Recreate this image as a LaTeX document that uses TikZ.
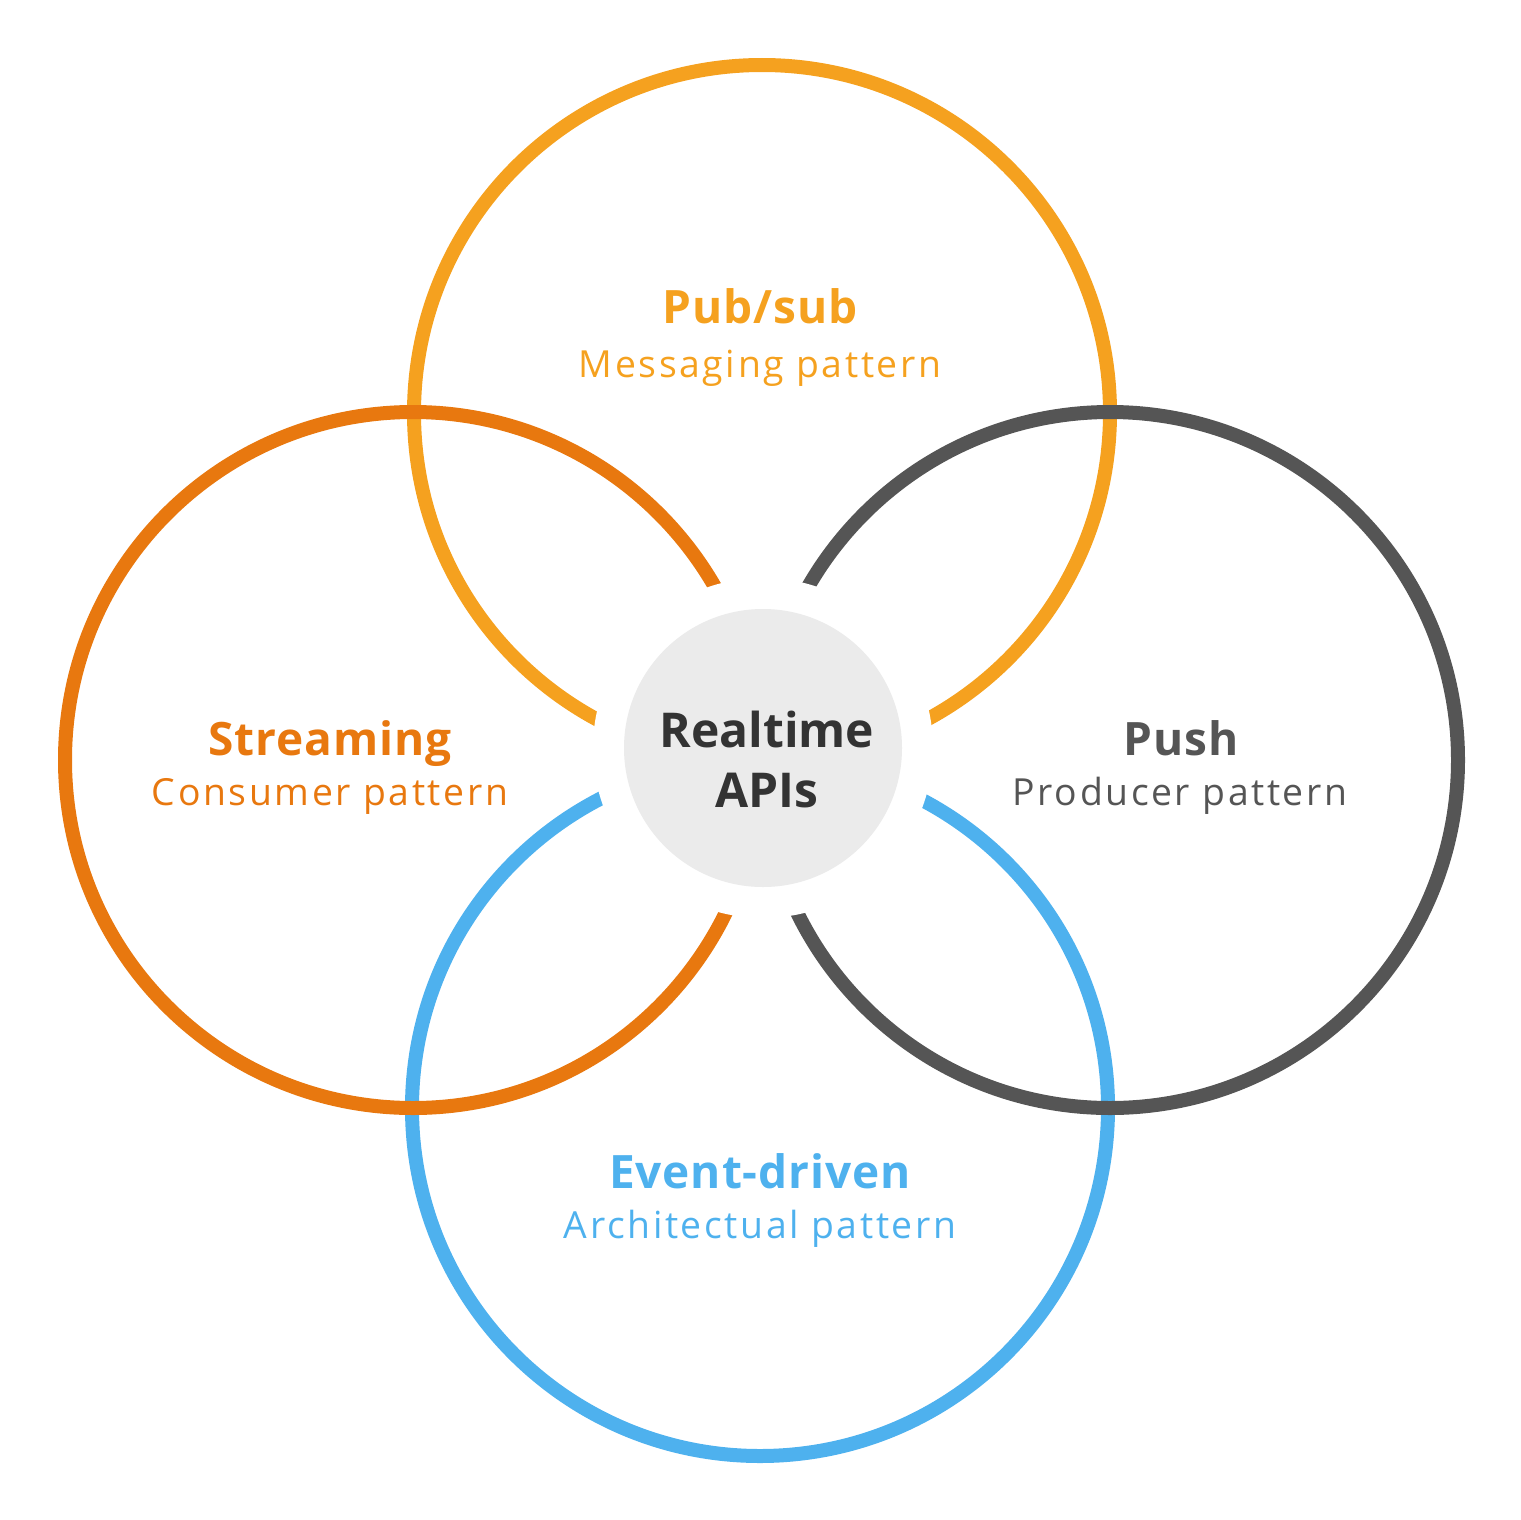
\documentclass[tikz,border=0pt]{standalone}
\usepackage{fontspec}
\setmainfont{Open Sans}
\newfontfamily\titlesans[LetterSpace=2]{Open Sans}
\newfontfamily\widesans[LetterSpace=7]{Open Sans}
\definecolor{pubsubcol}{RGB}{245,161,31}
\definecolor{streamcol}{RGB}{232,120,15}
\definecolor{pushcol}{RGB}{85,85,85}
\definecolor{eventcol}{RGB}{78,177,238}
\definecolor{hubcol}{RGB}{235,235,235}
\definecolor{hubtext}{RGB}{51,51,51}

\tikzset{every picture/.style={line width=0.75pt}}
\tikzset{
  ring/.style={line width=10.5pt},
  title/.style={anchor=base, font=\titlesans\bfseries\fontsize{34.5}{40}\selectfont},
  subtitle/.style={anchor=base, font=\widesans\fontsize{28}{34}\selectfont},
  hubline/.style={anchor=base, text=hubtext, font=\bfseries\fontsize{36}{42}\selectfont}
}

\begin{document}
\begin{tikzpicture}[x=0.75pt,y=0.75pt,yscale=-1,xscale=1]
%set diagram left start at 0, and has height of 1520
\useasboundingbox (0,0) rectangle (1520,1520);

%Shape: Circle [id:pubsub]
\draw [ring, draw=pubsubcol] (762,413) circle (348);
%Shape: Circle [id:event]
\draw [ring, draw=eventcol] (760,1108) circle (348);
%Shape: Circle [id:stream]
\draw [ring, draw=streamcol] (413,760) circle (348);
%Shape: Circle [id:push]
\draw [ring, draw=pushcol] (1110,760) circle (348);

%Shape: Circle [id:gap]
\fill [white] (763,748) circle (170);
%Shape: Circle [id:hub]
\draw (763,748) node (hub) [circle, fill=hubcol, inner sep=0pt, minimum size=208.5pt] {};

% Text Node
\draw (767,747) node (realtime) [hubline] {Realtime};
% Text Node
\draw (767,807) node (apis) [hubline] {APIs};

% Text Node
\draw (760,323) node (pubsub) [title, text=pubsubcol] {Pub/sub};
% Text Node
\draw (760,377) node (messaging) [subtitle, text=pubsubcol] {Messaging pattern};
% Text Node
\draw (330,755) node (streaming) [title, text=streamcol] {Streaming};
% Text Node
\draw (330,805) node (consumer) [subtitle, text=streamcol] {Consumer pattern};
% Text Node
\draw (1181,755) node (push) [title, text=pushcol] {Push};
% Text Node
\draw (1180,805) node (producer) [subtitle, text=pushcol] {Producer pattern};
% Text Node
\draw (760,1188) node (eventdriven) [title, text=eventcol] {Event-driven};
% Text Node
\draw (760,1238) node (architectual) [subtitle, text=eventcol] {Architectual pattern};

\end{tikzpicture}
\end{document}
